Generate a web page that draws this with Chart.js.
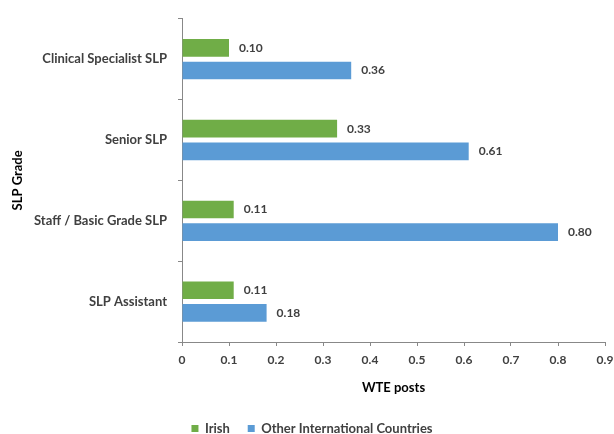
<!DOCTYPE html>
<html>
<head>
<meta charset="utf-8">
<script src="https://cdn.jsdelivr.net/npm/chart.js@4/dist/chart.umd.min.js"></script>
<style>
  html, body { margin: 0; padding: 0; background: #fff; }
  #wrap { width: 614px; height: 434px; position: relative; }
</style>
</head>
<body>
<div id="wrap"><canvas id="c" width="614" height="434"></canvas></div>
<script>
// SLP grades and WTE posts by origin
const grades = ['Clinical Specialist SLP', 'Senior SLP', 'Staff / Basic Grade SLP', 'SLP Assistant'];
const irish = [0.10, 0.33, 0.11, 0.11];
const otherInternational = [0.36, 0.61, 0.80, 0.18];
const xTicks = [0, 0.1, 0.2, 0.3, 0.4, 0.5, 0.6, 0.7, 0.8, 0.9];

const FONT = 'Lato, "Open Sans", sans-serif';
const TEXT = '#404040';

// Writes each bar's value just past its end
const valueLabels = {
  id: 'valueLabels',
  afterDatasetsDraw(chart) {
    const ctx = chart.ctx;
    ctx.save();
    ctx.font = `bold 12px ${FONT}`;
    ctx.fillStyle = TEXT;
    ctx.textAlign = 'left';
    ctx.textBaseline = 'middle';
    chart.data.datasets.forEach((ds, i) => {
      chart.getDatasetMeta(i).data.forEach((bar, j) => {
        ctx.fillText(ds.data[j].toFixed(2), bar.x + 10, bar.y);
      });
    });
    ctx.restore();
  }
};

new Chart(document.getElementById('c'), {
  type: 'bar',
  data: {
    labels: grades,
    datasets: [
      { label: 'Irish', data: irish, backgroundColor: '#70AD47', borderWidth: 0,
        categoryPercentage: 0.56, barPercentage: 0.78 },
      { label: 'Other International Countries', data: otherInternational, backgroundColor: '#5B9BD5', borderWidth: 0,
        categoryPercentage: 0.56, barPercentage: 0.78 }
    ]
  },
  options: {
    indexAxis: 'y',
    responsive: false,
    animation: false,
    layout: { padding: { top: 11, right: 0, left: 10, bottom: -11 } },
    plugins: {
      legend: {
        position: 'bottom',
        labels: {
          boxWidth: 7, boxHeight: 7, padding: 2,
          color: TEXT,
          font: { family: FONT, size: 13, weight: 'bold' },
          generateLabels(chart) {
            const items = Chart.defaults.plugins.legend.labels.generateLabels(chart);
            items.forEach((it, i) => { if (i === 0) it.text = it.text + '     '; });
            return items;
          }
        }
      },
      tooltip: { enabled: false }
    },
    scales: {
      x: {
        min: 0, max: 0.9,
        afterBuildTicks(axis) { axis.ticks = xTicks.map(v => ({ value: v })); },
        // let the last tick label run to the canvas edge
        afterFit(axis) { axis.paddingRight = 9; },
        ticks: {
          color: TEXT,
          font: { family: FONT, size: 12, weight: 'bold' },
          padding: 7,
          callback: v => v === 0 ? '0' : v.toFixed(1)
        },
        grid: { drawOnChartArea: false, drawTicks: true, tickLength: 4, color: '#888' },
        border: { display: true, color: '#888', width: 1 },
        title: {
          display: true, text: 'WTE posts', color: '#000',
          font: { family: FONT, size: 13, weight: 'bold' },
          padding: { top: 6, bottom: 24 }
        }
      },
      y: {
        afterFit(axis) { axis.width = 172; },
        ticks: {
          color: TEXT,
          font: { family: FONT, size: 13, weight: 'bold' },
          padding: 11
        },
        grid: { drawOnChartArea: false, drawTicks: true, tickLength: 4, offset: true, color: '#888' },
        border: { display: true, color: '#888', width: 1 },
        title: {
          display: true, text: 'SLP Grade', color: '#000',
          font: { family: FONT, size: 13, weight: 'bold' },
          padding: { top: 0, bottom: 0 }
        }
      }
    }
  },
  plugins: [valueLabels]
});
</script>
</body>
</html>
